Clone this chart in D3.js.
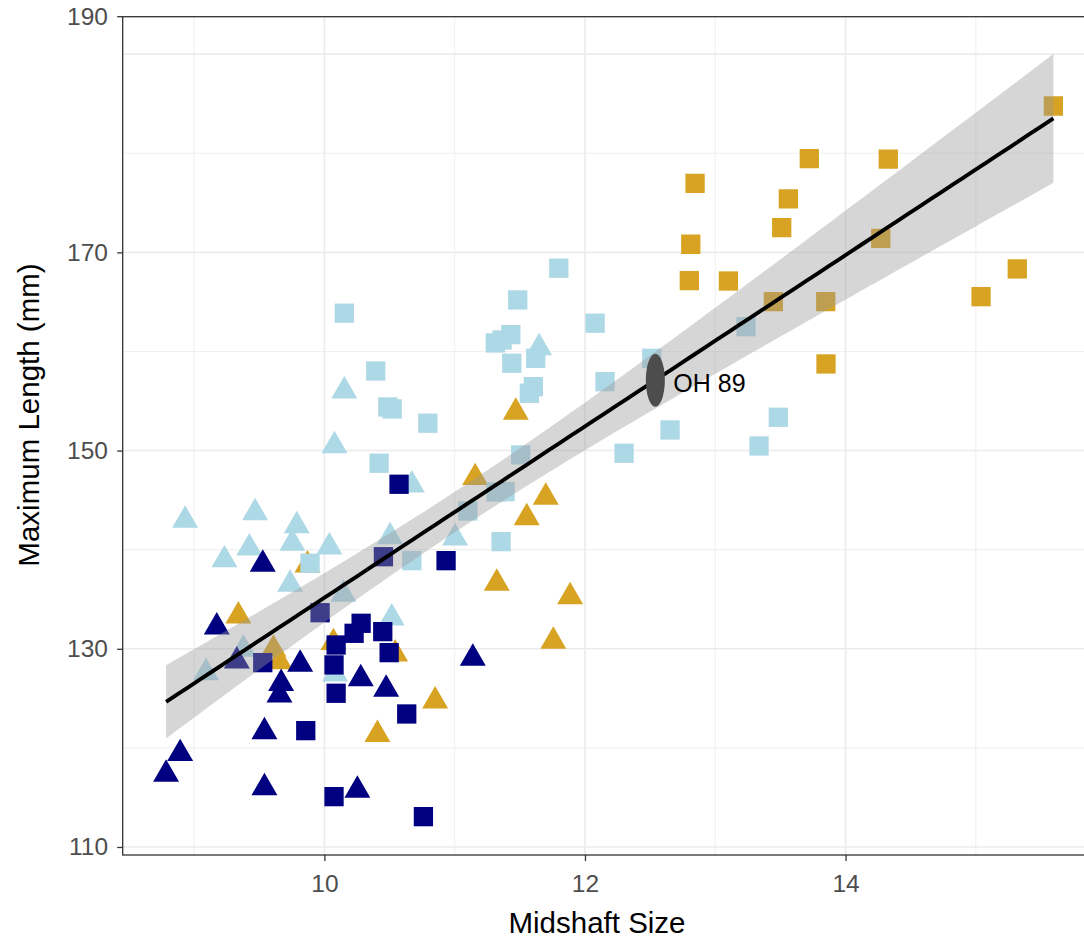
<!DOCTYPE html>
<html><head><meta charset="utf-8">
<script src="https://cdn.jsdelivr.net/npm/d3@7"></script>
<style>
html,body{margin:0;padding:0;background:#fff;}
svg{display:block;font-family:"Liberation Sans",Arial,Helvetica,sans-serif;}
</style></head><body>
<svg id="chart" width="1084" height="941"></svg>
<script>
// ---- data ----
const lightBlueSquareX = [10.153,10.394,10.487,10.520,10.794,10.420,11.799,11.484,11.312,11.364,11.431,11.438,11.622,11.604,11.573,12.078,12.154,12.513,12.653,12.300,11.507,11.318,11.387,11.101,11.356,10.671,9.890,13.236,13.484,13.336];
const lightBlueSquareY = [163.86,158.03,154.40,154.20,152.76,148.72,168.40,165.20,160.86,161.16,161.70,158.81,159.31,156.45,155.78,162.85,156.95,159.31,152.08,149.73,149.56,145.82,145.85,143.90,140.81,138.89,138.63,162.50,153.36,150.46];
const lightBlueTriangleX = [10.153,10.077,10.671,11.648,8.931,9.468,9.788,9.754,9.424,9.233,10.038,9.737,10.504,11.003,10.146,10.517,9.378,9.092,10.082];
const lightBlueTriangleY = [156.01,150.49,146.53,160.38,142.96,143.72,142.42,140.65,140.17,138.97,140.28,136.50,141.31,141.18,135.49,133.11,129.94,127.59,127.46];
const navySquareX = [10.573,10.934,10.453,9.967,10.282,10.228,10.448,10.090,10.497,10.074,10.090,9.527,9.857,10.632,10.074,10.760];
const navySquareY = [146.60,138.89,139.29,133.64,132.57,131.56,131.73,130.38,129.61,128.37,125.51,128.60,121.74,123.42,115.08,113.06];
const navyTriangleX = [9.527,9.174,9.328,9.814,9.668,9.655,9.540,8.893,8.785,9.540,10.253,10.279,10.474,11.139];
const navyTriangleY = [138.54,132.19,128.77,128.45,126.49,125.34,121.63,119.42,117.33,115.98,115.72,126.98,125.92,129.04];
const goldSquareX = [12.845,13.722,14.328,13.561,13.510,12.812,12.801,13.101,14.270,13.446,13.848,13.850,15.040,15.318,15.595];
const goldSquareY = [176.97,179.46,179.40,175.39,172.49,170.82,167.15,167.11,171.42,165.03,165.03,158.74,165.53,168.33,184.77];
const goldTriangleX = [11.469,11.157,11.699,11.553,11.323,11.886,11.757,10.850,10.407,9.340,9.870,9.609,9.655,10.069,10.543];
const goldTriangleY = [153.86,147.27,145.29,143.23,136.62,135.26,130.76,124.73,121.36,133.30,138.46,129.95,128.70,130.62,129.48];

const specimenLabel = "OH 89";
const specimenX = 12.54;
const specimenY = 157.1;

const xTickValues = [10, 12, 14];
const xMinorValues = [9, 11, 13, 15];
const yTickValues = [110, 130, 150, 170];
const yTopTickLabel = "190";
const yMajorGrid = [110, 130, 150, 170, 190];
const yMinorGrid = [120, 140, 160, 180];
const xTitle = "Midshaft Size";
const yTitle = "Maximum Length (mm)";

// ---- layout ----
const svg = d3.select("#chart");
const pLeft = 122.7, pRight = 1097.8, pTop = 16.7, pBottom = 855;
const x = d3.scaleLinear().domain([8.452, 15.936]).range([pLeft, pRight]);
const y = d3.scaleLinear().domain([109.19, 193.78]).range([pBottom, pTop]);

const COL_LB = "#ADD8E6", COL_NAVY = "#000080", COL_GOLD = "#D8A322";

svg.append("defs").append("clipPath").attr("id","panel")
  .append("rect").attr("x",pLeft).attr("y",pTop).attr("width",pRight-pLeft).attr("height",pBottom-pTop);

const grid = svg.append("g");
grid.selectAll(".vmin").data(xMinorValues).join("line")
  .attr("x1",d=>x(d)).attr("x2",d=>x(d)).attr("y1",pTop).attr("y2",pBottom)
  .attr("stroke","#F0F0F0").attr("stroke-width",1.1);
grid.selectAll(".hmin").data(yMinorGrid).join("line")
  .attr("y1",d=>y(d)).attr("y2",d=>y(d)).attr("x1",pLeft).attr("x2",pRight)
  .attr("stroke","#F0F0F0").attr("stroke-width",1.1);
grid.selectAll(".vmaj").data(xTickValues).join("line")
  .attr("x1",d=>x(d)).attr("x2",d=>x(d)).attr("y1",pTop).attr("y2",pBottom)
  .attr("stroke","#EBEBEB").attr("stroke-width",1.6);
grid.selectAll(".hmaj").data(yMajorGrid).join("line")
  .attr("y1",d=>y(d)).attr("y2",d=>y(d)).attr("x1",pLeft).attr("x2",pRight)
  .attr("stroke","#EBEBEB").attr("stroke-width",1.6);

// points
const plot = svg.append("g").attr("clip-path","url(#panel)");
const tri = d3.symbol().type(d3.symbolTriangle).size(292);
const sq = d3.symbol().type(d3.symbolSquare).size(372);
function drawSeries(xs, ys, color, sym){
  plot.append("g").selectAll("path").data(xs.map((v,i)=>[v,ys[i]])).join("path")
    .attr("d", sym).attr("transform", d=>`translate(${x(d[0])},${y(d[1])})`)
    .attr("fill", color);
}
drawSeries(goldTriangleX, goldTriangleY, COL_GOLD, tri);
drawSeries(goldSquareX, goldSquareY, COL_GOLD, sq);
drawSeries(lightBlueTriangleX, lightBlueTriangleY, COL_LB, tri);
drawSeries(lightBlueSquareX, lightBlueSquareY, COL_LB, sq);
drawSeries(navyTriangleX, navyTriangleY, COL_NAVY, tri);
drawSeries(navySquareX, navySquareY, COL_NAVY, sq);

// linear fit with 95% confidence band, computed from all points
const allX = [].concat(lightBlueSquareX, lightBlueTriangleX, navySquareX, navyTriangleX, goldSquareX, goldTriangleX);
const allY = [].concat(lightBlueSquareY, lightBlueTriangleY, navySquareY, navyTriangleY, goldSquareY, goldTriangleY);
const n = allX.length;
const mx = d3.mean(allX), my = d3.mean(allY);
let sxx = 0, sxy = 0;
for (let i=0;i<n;i++){ sxx += (allX[i]-mx)**2; sxy += (allX[i]-mx)*(allY[i]-my); }
const slope = sxy/sxx, icpt = my - slope*mx;
let sse = 0;
for (let i=0;i<n;i++){ sse += (allY[i]-(icpt+slope*allX[i]))**2; }
const s = Math.sqrt(sse/(n-2));
const tq = 1.982;
const [x0, x1] = d3.extent(allX);
const grid80 = d3.range(80).map(i => x0 + (x1-x0)*i/79);
const fit = grid80.map(xv => {
  const yh = icpt + slope*xv;
  const se = s*Math.sqrt(1/n + (xv-mx)**2/sxx);
  return {x:xv, y:yh, lo:yh - tq*se, hi:yh + tq*se};
});
plot.append("path").datum(fit)
  .attr("d", d3.area().x(d=>x(d.x)).y0(d=>y(d.lo)).y1(d=>y(d.hi)))
  .attr("fill","#999999").attr("fill-opacity",0.4);
plot.append("path").datum(fit)
  .attr("d", d3.line().x(d=>x(d.x)).y(d=>y(d.y)))
  .attr("fill","none").attr("stroke","#000").attr("stroke-width",3.9);

// specimen
plot.append("ellipse").attr("cx",x(specimenX)).attr("cy",y(specimenY))
  .attr("rx",9.5).attr("ry",26.5).attr("fill","#4D4D4D");
svg.append("text").attr("x",x(specimenX)+18).attr("y",y(specimenY)+11.5)
  .attr("font-size",25).attr("fill","#000").text(specimenLabel);

// panel border
svg.append("rect").attr("x",pLeft).attr("y",pTop).attr("width",pRight-pLeft).attr("height",pBottom-pTop)
  .attr("fill","none").attr("stroke","#333333").attr("stroke-width",1.3);

// axes
const xAxis = svg.append("g").attr("transform",`translate(0,${pBottom})`)
  .call(d3.axisBottom(x).tickValues(xTickValues).tickSize(6).tickPadding(14).tickFormat(d3.format("d")));
xAxis.select(".domain").remove();
const yAxis = svg.append("g").attr("transform",`translate(${pLeft},0)`)
  .call(d3.axisLeft(y).tickValues(yTickValues).tickSize(5.5).tickPadding(9.2).tickFormat(d3.format("d")));
yAxis.select(".domain").remove();
const topTick = yAxis.append("g").attr("class","tick").attr("transform",`translate(0,${pTop})`);
topTick.append("line").attr("x2",-5.5);
topTick.append("text").attr("x",-14.7).text(yTopTickLabel);
[xAxis, yAxis].forEach(g => {
  g.selectAll(".tick line").attr("stroke","#333333").attr("stroke-width",1.3);
  g.selectAll(".tick text").attr("font-size",24.5).attr("fill","#4D4D4D")
    .attr("font-family",'"Liberation Sans",Arial,sans-serif');
});
yAxis.selectAll(".tick text").attr("text-anchor","end").attr("dy","0.32em");

// titles
svg.append("text").attr("x",597).attr("y",933).attr("text-anchor","middle")
  .attr("font-size",29.5).attr("fill","#000").text(xTitle);
svg.append("text").attr("transform","translate(39,415) rotate(-90)").attr("text-anchor","middle")
  .attr("font-size",29.5).attr("fill","#000").text(yTitle);
</script>
</body></html>
